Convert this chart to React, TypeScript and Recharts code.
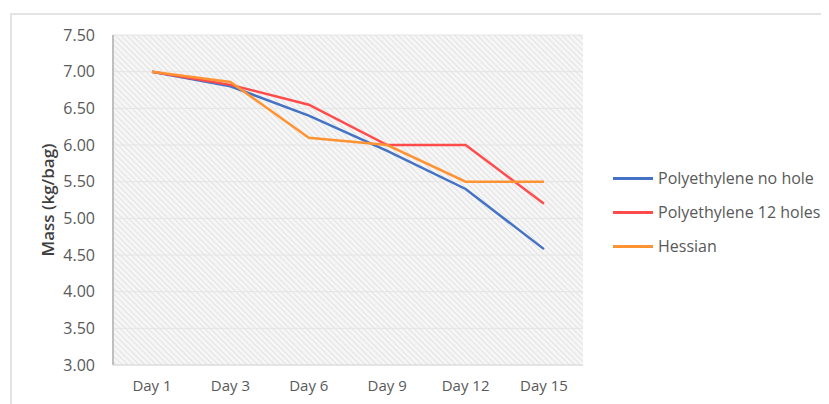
import { CartesianGrid, Line, LineChart, XAxis, YAxis } from "recharts"

// values
const days = ["Day 1", "Day 3", "Day 6", "Day 9", "Day 12", "Day 15"]
const noHole = [7.0, 6.8, 6.4, 5.92, 5.4, 4.58]
const twelveHoles = [7.0, 6.82, 6.55, 6.0, 6.0, 5.2]
const hessian = [7.0, 6.86, 6.1, 6.0, 5.5, 5.5]
const yTicks = [3.0, 3.5, 4.0, 4.5, 5.0, 5.5, 6.0, 6.5, 7.0, 7.5]

const series = [
  { key: "noHole", name: "Polyethylene no hole", color: "#4472c4" },
  { key: "twelveHoles", name: "Polyethylene 12 holes", color: "#ff4b4b" },
  { key: "hessian", name: "Hessian", color: "#ff9333" },
]

const data = days.map((day, i) => ({
  day,
  noHole: noHole[i],
  twelveHoles: twelveHoles[i],
  hessian: hessian[i],
}))

const font = "Open Sans, Lato, sans-serif"

export default function App() {
  return (
    <div style={{ position: "relative", width: 821, height: 396, fontFamily: font }}>
      {/* hatch pattern used as plot background */}
      <svg width={0} height={0} style={{ position: "absolute" }}>
        <defs>
          <pattern id="hatch" width={4} height={4} patternUnits="userSpaceOnUse" patternTransform="rotate(-45)">
            <rect width={4} height={4} fill="#f6f6f6" />
            <line x1={0} y1={0} x2={0} y2={4} stroke="#dadada" strokeWidth={1.4} />
          </pattern>
        </defs>
      </svg>
      <div
        style={{
          position: "absolute",
          left: 2,
          top: 5,
          width: 819,
          height: 391,
          borderTop: "2px solid #e3e3e3",
          borderLeft: "2px solid #e3e3e3",
        }}
      />
      <LineChart
        width={821}
        height={396}
        data={data}
        margin={{ top: 27, right: 246, left: 0, bottom: 0 }}
        style={{ position: "absolute", left: 0, top: 0 }}
      >
        <CartesianGrid fill="url(#hatch)" stroke="#e4e4e4" vertical={false} />
        <XAxis
          dataKey="day"
          height={39}
          padding={{ left: 39, right: 39 }}
          tickLine={false}
          axisLine={{ stroke: "#d9d9d9" }}
          tick={{ fontSize: 15, fill: "#595959", fontFamily: font }}
          tickMargin={9}
        />
        <YAxis
          width={105}
          domain={[3, 7.5]}
          ticks={yTicks}
          tickFormatter={(v) => v.toFixed(2)}
          tickLine={false}
          axisLine={{ stroke: "#bfbfbf", strokeWidth: 2 }}
          tick={{ fontSize: 16, fill: "#595959", fontFamily: font }}
          tickMargin={12}
          label={{
            value: "Mass (kg/bag)",
            angle: -90,
            position: "insideLeft",
            offset: 40,
            style: { textAnchor: "middle", fontSize: 17, fontWeight: 600, fill: "#404040", fontFamily: font },
          }}
        />
        {series.map((s) => (
          <Line
            key={s.key}
            type="linear"
            dataKey={s.key}
            name={s.name}
            stroke={s.color}
            strokeWidth={2.5}
            dot={false}
            isAnimationActive={false}
          />
        ))}
      </LineChart>
      <div style={{ position: "absolute", left: 605, top: 153 }}>
        {series.map((s) => (
          <div key={s.key} style={{ display: "flex", alignItems: "center", height: 34 }}>
            <div style={{ width: 40, height: 3, background: s.color, marginRight: 5 }} />
            <span style={{ fontSize: 16, color: "#595959" }}>{s.name}</span>
          </div>
        ))}
      </div>
    </div>
  )
}
